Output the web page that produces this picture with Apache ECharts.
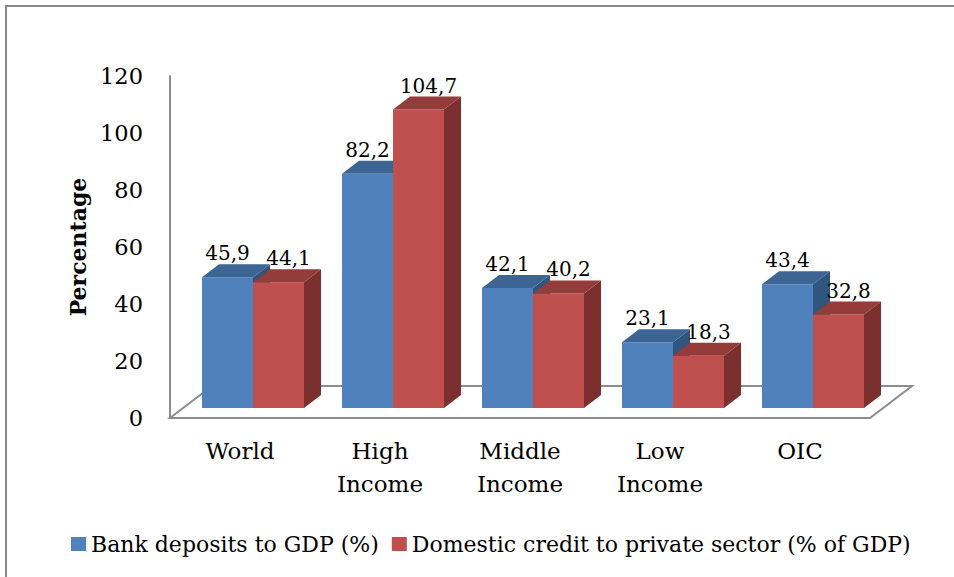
<!DOCTYPE html>
<html>
<head>
<meta charset="utf-8">
<script src="https://cdn.jsdelivr.net/npm/echarts@6/dist/echarts.min.js"></script>
<style>html,body{margin:0;padding:0;background:#fff;}#c{width:954px;height:577px;}</style>
</head>
<body>
<div id="c"></div>
<script>
var categories = ['World', 'High\nIncome', 'Middle\nIncome', 'Low\nIncome', 'OIC'];
var bankDeposits = [45.9, 82.2, 42.1, 23.1, 43.4];
var domesticCredit = [44.1, 104.7, 40.2, 18.3, 32.8];
var seriesNames = ['Bank deposits to GDP (%)', 'Domestic credit to private sector (% of GDP)'];
var yTicks = { min: 0, max: 120, interval: 20 };

var FONT = '"DejaVu Serif", serif';
var colors = [
  { front: '#4F81BD', top: '#3D6594', side: '#30557F' },
  { front: '#C0504D', top: '#933C3A', side: '#7B302F' }
];
var BAR_W = 51, DX = 17, DY = 13;
var LABEL_SHIFT = [0, 10];

function fmt(v) { return v.toFixed(1).replace('.', ','); }

function barRender(sIdx) {
  return function (params, api) {
    var idx = api.value(0), val = api.value(1);
    var base = api.coord([idx, 0]);
    var top = api.coord([idx, val]);
    var x0 = sIdx === 0 ? base[0] - BAR_W : base[0];
    var x1 = x0 + BAR_W;
    var yb = base[1], yt = top[1];
    var c = colors[sIdx];
    return {
      type: 'group',
      children: [
        { type: 'polygon', shape: { points: [[x1, yt], [x1 + DX, yt - DY], [x1 + DX, yb - DY], [x1, yb]] }, style: { fill: c.side } },
        { type: 'rect', shape: { x: x0, y: yt, width: BAR_W, height: yb - yt }, style: { fill: c.front } },
        { type: 'polygon', shape: { points: [[x0, yt], [x0 + DX, yt - DY], [x1 + DX, yt - DY], [x1, yt]] }, style: { fill: c.top } },
        { type: 'text', x: x0 + BAR_W / 2 + LABEL_SHIFT[sIdx], y: yt - DY - 1,
          style: { text: fmt(val), fill: '#000', font: '20px ' + FONT, align: 'center', verticalAlign: 'bottom' } }
      ]
    };
  };
}

function floorRender(params, api) {
  var cs = params.coordSys;
  var x = cs.x, y = cs.y + cs.height, w = cs.width;
  var ddx = 42, ddy = 32;
  return {
    type: 'polygon',
    shape: { points: [[x, y], [x + w, y], [x + w + ddx, y - ddy], [x + ddx, y - ddy]] },
    style: { fill: '#fff', stroke: '#8c8c8c', lineWidth: 2 }
  };
}

var chart = echarts.init(document.getElementById('c'), null, { renderer: 'svg' });
chart.setOption({
  backgroundColor: '#fff',
  animation: false,
  graphic: [
    { type: 'polyline', shape: { points: [[6, 600], [6, 6], [960, 6]] }, style: { stroke: '#8a8a8a', lineWidth: 2, fill: 'none' }, z: -10 }
  ],
  legend: {
    left: 66, top: 528,
    itemWidth: 15, itemHeight: 14, itemGap: 13,
    textStyle: { fontFamily: FONT, fontSize: 22, color: '#000' },
    data: [
      { name: seriesNames[0], icon: 'rect', itemStyle: { color: colors[0].front } },
      { name: seriesNames[1], icon: 'rect', itemStyle: { color: colors[1].front } }
    ]
  },
  grid: [
    { left: 170, width: 700, top: 76, height: 342 },
    { left: 183, width: 700, top: 66, height: 342 }
  ],
  xAxis: [
    { type: 'category', gridIndex: 0, data: categories,
      axisLine: { show: false }, axisTick: { show: false },
      axisLabel: { fontFamily: FONT, fontSize: 23, color: '#000', lineHeight: 33, margin: 16, interval: 0 } },
    { type: 'category', gridIndex: 1, data: categories, show: false }
  ],
  yAxis: [
    { type: 'value', gridIndex: 0, min: yTicks.min, max: yTicks.max, interval: yTicks.interval,
      name: 'Percentage', nameLocation: 'middle', nameGap: 80, nameRotate: 90,
      nameTextStyle: { fontFamily: FONT, fontSize: 22, fontWeight: 'bold', color: '#000' },
      axisLine: { show: true, lineStyle: { color: '#8c8c8c', width: 2 } },
      axisTick: { show: false }, splitLine: { show: false },
      axisLabel: { fontFamily: FONT, fontSize: 22.5, color: '#000', margin: 27 } },
    { type: 'value', gridIndex: 1, min: yTicks.min, max: yTicks.max, interval: yTicks.interval, show: false }
  ],
  series: [
    { type: 'custom', name: 'floor', xAxisIndex: 0, yAxisIndex: 0, renderItem: floorRender, data: [[0, 0]], z: 1, silent: true },
    { type: 'custom', name: seriesNames[0], xAxisIndex: 1, yAxisIndex: 1, renderItem: barRender(0),
      itemStyle: { color: colors[0].front }, z: 2,
      data: bankDeposits.map(function (v, i) { return [i, v]; }) },
    { type: 'custom', name: seriesNames[1], xAxisIndex: 1, yAxisIndex: 1, renderItem: barRender(1),
      itemStyle: { color: colors[1].front }, z: 3,
      data: domesticCredit.map(function (v, i) { return [i, v]; }) }
  ]
});
</script>
</body>
</html>
